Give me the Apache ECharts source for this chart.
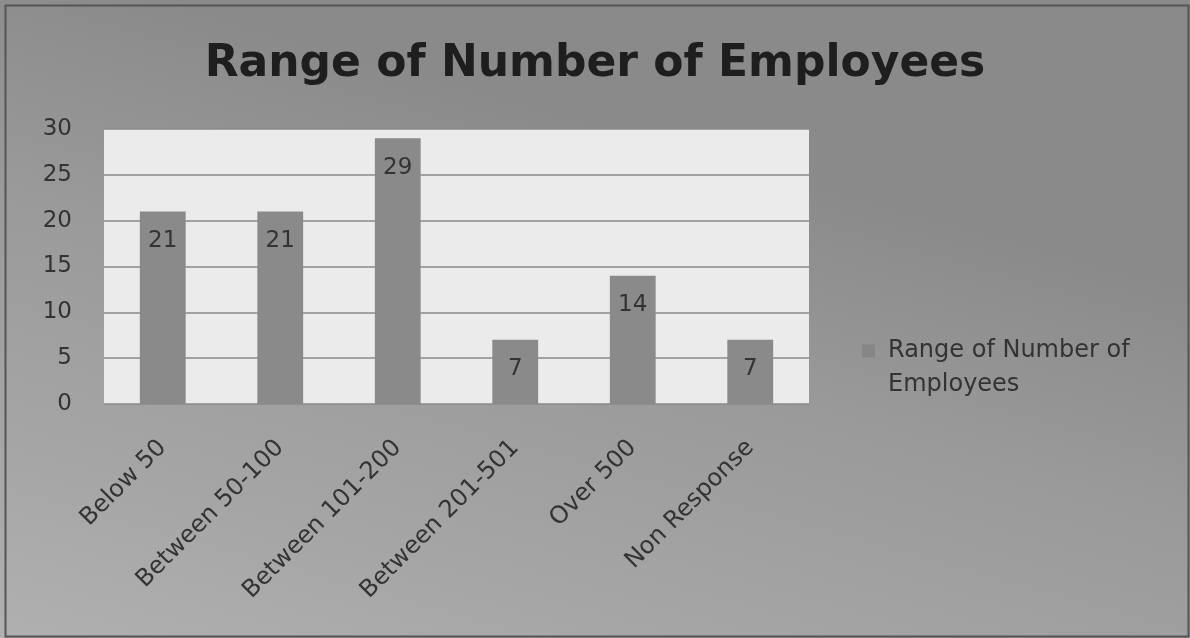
<!DOCTYPE html>
<html><head><meta charset="utf-8">
<script src="https://cdn.jsdelivr.net/npm/echarts@6/dist/echarts.min.js"></script>
<style>html,body{margin:0;padding:0;}#c{width:1190px;height:638px;}</style>
</head><body><div id="c"></div>
<script>
const categories = ["Below 50", "Between 50-100", "Between 101-200", "Between 201-501", "Over 500", "Non Response"];
const values = [21, 21, 29, 7, 14, 7];
const seriesName = "Range of Number of Employees";
const yTicks = { min: 0, max: 30, interval: 5 };

const FONT = '"DejaVu Sans", "Open Sans", sans-serif';
// square at top-left of a 21x47 box (tiny invisible point extends the box)
const legendIcon = 'path://M0,0h13v13h-13z M20.99,46.99 L21,47 L20.99,47 Z';

const chart = echarts.init(document.getElementById('c'));
chart.setOption({
  backgroundColor: new echarts.graphic.LinearGradient(0.15, 0, 0, 1, [
    { offset: 0, color: '#8a8a8a' },
    { offset: 0.35, color: '#9a9a9a' },
    { offset: 0.7, color: '#a5a5a5' },
    { offset: 1, color: '#b0b0b0' }
  ]),
  textStyle: { fontFamily: FONT },
  graphic: [{
    type: 'rect', left: 3, top: 3, silent: true, z: 100,
    shape: { width: 1183, height: 631 },
    style: { fill: 'none', stroke: '#555', lineWidth: 2 }
  }],
  title: {
    text: 'Range of Number of Employees',
    left: 'center', top: 38,
    textStyle: { fontSize: 44, fontWeight: 'bold', color: '#1e1e1e', fontFamily: FONT }
  },
  legend: {
    left: 857, top: 329,
    itemWidth: 21, itemHeight: 47, icon: legendIcon, symbolKeepAspect: true,
    itemStyle: { color: '#868686' },
    formatter: () => 'Range of Number of\nEmployees',
    textStyle: { fontSize: 24, color: '#333', lineHeight: 34 }
  },
  grid: { left: 104, right: 381, top: 129, bottom: 234, show: true, backgroundColor: '#ebebeb', borderWidth: 0 },
  xAxis: {
    type: 'category', data: categories,
    axisLine: { show: false }, axisTick: { show: false },
    axisLabel: { rotate: 45, fontSize: 24, color: '#333', margin: 40, interval: 0 }
  },
  yAxis: {
    type: 'value', min: yTicks.min, max: yTicks.max, interval: yTicks.interval,
    axisLine: { show: false }, axisTick: { show: false },
    axisLabel: { fontSize: 23, color: '#333', margin: 32 },
    splitLine: { lineStyle: { color: '#8a8a8a', width: 1.5 } }
  },
  series: [{
    name: seriesName, type: 'bar', data: values, barWidth: '39%',
    itemStyle: { color: '#8a8a8a' },
    label: { show: true, position: 'insideTop', distance: 18, fontSize: 23, color: '#333' }
  }]
});
</script></body></html>
